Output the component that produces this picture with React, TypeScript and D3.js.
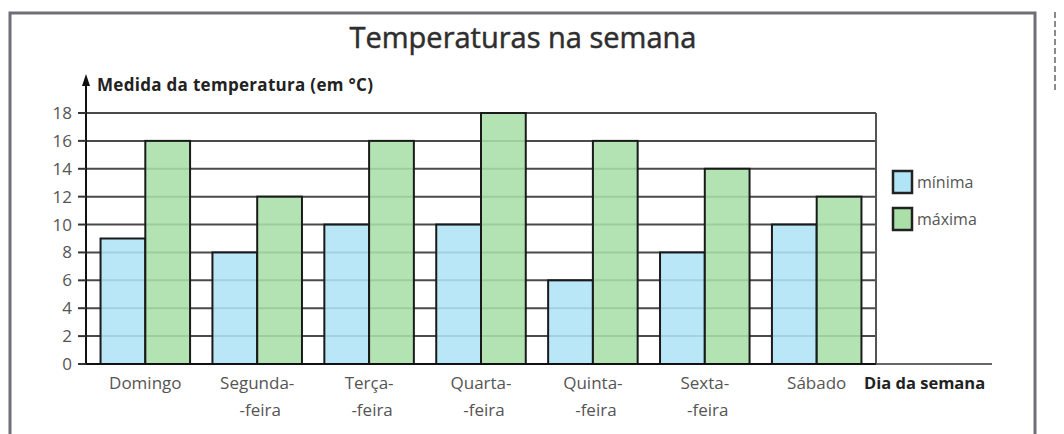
import * as d3 from "d3";

// chart data
const days = ["Domingo", "Segunda-", "Terça-", "Quarta-", "Quinta-", "Sexta-", "Sábado"];
const daysSecondLine = ["", "-feira", "-feira", "-feira", "-feira", "-feira", ""];
const minima = [9, 8, 10, 10, 6, 8, 10];
const maxima = [16, 12, 16, 18, 16, 14, 12];
const series = ["mínima", "máxima"];
const yTicks = [0, 2, 4, 6, 8, 10, 12, 14, 16, 18];

const colors: Record<string, string> = { "mínima": "#b1e4f6", "máxima": "#aadfa8" };
const font = "'Open Sans', 'DejaVu Sans', sans-serif";

export default function App() {
  const width = 1064;
  const height = 434;
  const left = 86;
  const plotRight = 876;

  // scales
  const y = d3.scaleLinear().domain([0, 18]).range([364, 113]);
  const x = d3.scaleBand<string>().domain(days).range([left, plotRight]).paddingInner(0.2).paddingOuter(0.13);
  const xInner = d3.scaleBand<string>().domain(series).range([0, x.bandwidth()]);

  const rows = days.map((d, i) => ({ day: d, second: daysSecondLine[i], values: [minima[i], maxima[i]] }));

  return (
    <svg width={width} height={height} style={{ position: "absolute", left: 0, top: 0, background: "#fff" }} fontFamily={font}>
      {/* outer frame */}
      <rect x={10} y={13} width={1025} height={440} fill="none" stroke="#6e6e78" strokeWidth={3} />
      <line x1={1055} x2={1055} y1={12} y2={92} stroke="#8a8a8a" strokeWidth={2} strokeDasharray="6 3" />

      <text x={523} y={48} textAnchor="middle" fontSize={29} fill="#2e2e2e" stroke="#2e2e2e" strokeWidth={0.5}>Temperaturas na semana</text>

      {/* gridlines */}
      {yTicks.filter((t) => t > 0).map((t) => (
        <line key={t} x1={left} x2={plotRight} y1={y(t)} y2={y(t)} stroke="#4a4a4a" strokeWidth={2} />
      ))}
      <line x1={plotRight} x2={plotRight} y1={y(18)} y2={y(0)} stroke="#555" strokeWidth={2} />

      {/* bars */}
      {rows.map((r) => (
        <g key={r.day} transform={`translate(${x(r.day)},0)`}>
          {series.map((s, j) => (
            <rect key={s} x={xInner(s)} y={y(r.values[j])} width={xInner.bandwidth()} height={y(0) - y(r.values[j])}
              fill={colors[s]} fillOpacity={0.88} stroke="#1a1a1a" strokeWidth={2} />
          ))}
        </g>
      ))}

      {/* y axis */}
      <line x1={left} x2={left} y1={y(0)} y2={82} stroke="#111" strokeWidth={2} />
      <path d={`M${left},74 L${left - 4},86 L${left + 4},86 Z`} fill="#111" />
      {yTicks.map((t) => (
        <g key={t}>
          <line x1={left - 8} x2={left} y1={y(t)} y2={y(t)} stroke="#333" strokeWidth={2} />
          <text x={72} y={y(t)} dy="0.35em" textAnchor="end" fontSize={17} fill="#555">{t}</text>
        </g>
      ))}
      <text x={97} y={91} fontSize={17} fontWeight="bold" fill="#222" letterSpacing={0.3}>Medida da temperatura (em °C)</text>

      {/* x axis */}
      <line x1={left} x2={plotRight} y1={y(0)} y2={y(0)} stroke="#111" strokeWidth={2} />
      <line x1={plotRight} x2={992} y1={y(0)} y2={y(0)} stroke="#666" strokeWidth={2} />
      {rows.map((r) => (
        <text key={r.day} x={(x(r.day) ?? 0) + x.bandwidth() / 2} y={389} textAnchor="middle" fontSize={17} fill="#555">
          <tspan x={(x(r.day) ?? 0) + x.bandwidth() / 2}>{r.day}</tspan>
          {r.second && <tspan x={(x(r.day) ?? 0) + x.bandwidth() / 2 + 3} dy={27}>{r.second}</tspan>}
        </text>
      ))}
      <text x={864} y={389} fontSize={16.5} fontWeight="bold" fill="#222">Dia da semana</text>

      {/* legend */}
      {series.map((s, i) => (
        <g key={s} transform={`translate(893,${171 + i * 37})`}>
          <rect width={19} height={22} fill={colors[s]} stroke="#222" strokeWidth={2.5} />
          <text x={24} y={11} dy="0.35em" fontSize={16} fill="#555">{s}</text>
        </g>
      ))}
    </svg>
  );
}
